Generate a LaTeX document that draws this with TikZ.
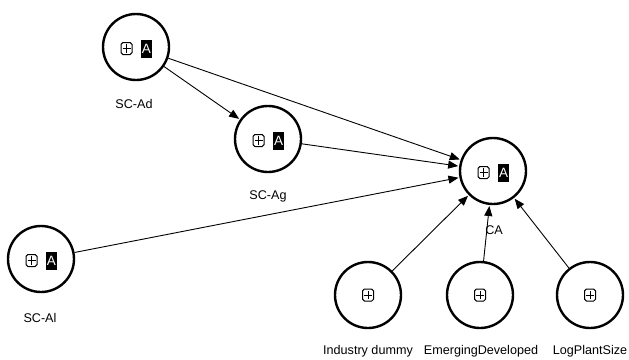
\documentclass[tikz,border=0pt]{standalone}
\usepackage{fontspec}
\setmainfont{Liberation Sans}
\usetikzlibrary{arrows.meta}
\begin{document}
\begin{tikzpicture}[x=1pt,y=-1pt,
  latent/.style={circle, draw=black, line width=2.4pt, minimum size=66pt, inner sep=0pt, fill=white},
  lbl/.style={font=\fontsize{12.6}{14}\selectfont, inner sep=0pt},
  expander/.style={draw=black, line width=1pt, rounded corners=1.8pt, minimum width=11pt, minimum height=12pt, inner sep=0pt,
    path picture={\draw[line width=0.9pt] ([xshift=-4pt]path picture bounding box.center) -- ([xshift=4pt]path picture bounding box.center)
      ([yshift=-4.3pt]path picture bounding box.center) -- ([yshift=4.3pt]path picture bounding box.center);}},
  abox/.style={fill=black, text=white, minimum width=10.5pt, minimum height=18pt, inner sep=0pt, font=\fontsize{13.5}{14}\selectfont},
  link/.style={draw=black, line width=0.9pt, shorten >=1pt, -{Triangle[length=10pt,width=8pt]}},
]
\useasboundingbox (0,0) rectangle (629,359);

% latent variables with their expander and "A" markers
\node[latent] (ad) at (136,47) {};
\node[expander] (ad-x) at ([xshift=-9.5pt,yshift=-1.5pt]ad.center) {};
\node[abox] (ad-a) at ([xshift=10.5pt,yshift=-1.5pt]ad.center) {A};
\node[lbl] (ad-l) at (134,104) {SC-Ad};

\node[latent] (ag) at (268,139) {};
\node[expander] (ag-x) at ([xshift=-9.5pt,yshift=-1.5pt]ag.center) {};
\node[abox] (ag-a) at ([xshift=10.5pt,yshift=-1.5pt]ag.center) {A};
\node[lbl] (ag-l) at (268,196) {SC-Ag};

\node[latent] (ca) at (493,171) {};
\node[expander] (ca-x) at ([xshift=-9.5pt,yshift=-1.5pt]ca.center) {};
\node[abox] (ca-a) at ([xshift=10.5pt,yshift=-1.5pt]ca.center) {A};
\node[lbl] (ca-l) at (494,230) {CA};

\node[latent] (al) at (41,259) {};
\node[expander] (al-x) at ([xshift=-9.5pt,yshift=-1.5pt]al.center) {};
\node[abox] (al-a) at ([xshift=10.5pt,yshift=-1.5pt]al.center) {A};
\node[lbl] (al-l) at (40,318) {SC-Al};

% control variables
\node[latent] (ind) at (368,295) {};
\node[expander] (ind-x) at (ind.center) {};
\node[lbl] (ind-l) at (368,351) {Industry dummy};

\node[latent] (emd) at (480,295) {};
\node[expander] (emd-x) at (emd.center) {};
\node[lbl] (emd-l) at (481,351) {EmergingDeveloped};

\node[latent] (lps) at (590,295) {};
\node[expander] (lps-x) at (lps.center) {};
\node[lbl] (lps-l) at (590,351) {LogPlantSize};

% structural paths
\draw[link] (ad) -- (ag);
\draw[link] (ad) -- (ca);
\draw[link] (ag) -- (ca);
\draw[link] (al) -- (ca);
\draw[link] (ind) -- (ca);
\draw[link] (emd) -- (ca);
\draw[link] (lps) -- (ca);
\end{tikzpicture}
\end{document}
